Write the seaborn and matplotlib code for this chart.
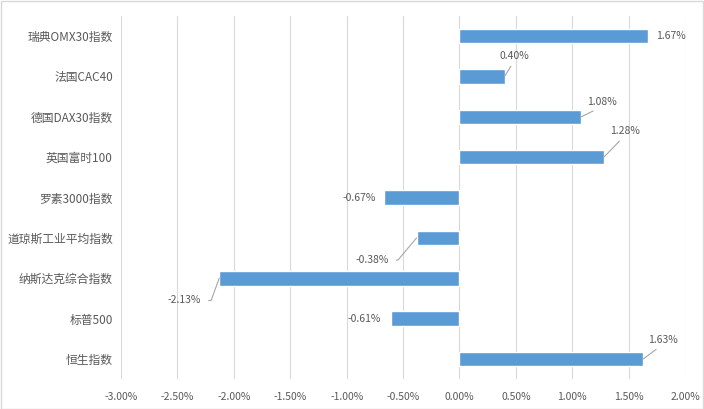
import pandas as pd
import matplotlib
matplotlib.use("Agg")
import matplotlib.pyplot as plt
import seaborn as sns
from matplotlib.ticker import FuncFormatter, MultipleLocator

# Données
categories = ["瑞典OMX30指数", "法国CAC40", "德国DAX30指数", "英国富时100", "罗素3000指数",
              "道琼斯工业平均指数", "纳斯达克综合指数", "标普500", "恒生指数"]
values = [1.67, 0.40, 1.08, 1.28, -0.67, -0.38, -2.13, -0.61, 1.63]
value_labels = ["1.67%", "0.40%", "1.08%", "1.28%", "-0.67%", "-0.38%", "-2.13%", "-0.61%", "1.63%"]

# position des étiquettes (points, relatif au bout de la barre) et type de ligne de rappel
label_offsets = [(6, 0), (7, 15), (15, 11), (15, 19), (-6, 0), (-32, -16), (-25, -16), (-7, 0), (14, 14)]
leader_style = [None, "straight", "straight", "straight", None, "angle50", "angle70", None, "straight"]

df = pd.DataFrame({"indice": categories, "rendement": values})

sns.set_style("whitegrid")
plt.rcParams["font.family"] = ["Noto Sans CJK SC", "DejaVu Sans"]

text_color = "#595959"
grid_color = "#D9D9D9"
bar_color = "#5B9BD5"

fig = plt.figure(figsize=(7.04, 4.09), dpi=100)
ax = fig.add_axes([0.172, 0.073, 0.801, 0.888])

sns.barplot(data=df, x="rendement", y="indice", order=categories, orient="h",
            color=bar_color, saturation=1, width=0.36, ax=ax)

ax.set_xlim(-3.0, 2.0)
ax.xaxis.set_major_locator(MultipleLocator(0.5))
ax.xaxis.set_major_formatter(FuncFormatter(lambda v, p: f"{v:.2f}%"))
ax.set_xlabel("")
ax.set_ylabel("")

ax.grid(axis="x", color=grid_color, linewidth=0.8)
ax.grid(axis="y", visible=False)
ax.set_axisbelow(True)
for s in ax.spines.values():
    s.set_visible(False)

ax.tick_params(axis="x", length=0, pad=9, labelsize=7.5, labelcolor=text_color)
ax.tick_params(axis="y", length=0, pad=6, labelsize=8.5, labelcolor=text_color)

# Étiquettes de données
for i, (v, lab) in enumerate(zip(values, value_labels)):
    dx, dy = label_offsets[i]
    style = leader_style[i]
    if style is None:
        ax.annotate(lab, xy=(v, i), xytext=(dx, dy), textcoords="offset points",
                    ha="left" if v > 0 else "right", va="center",
                    fontsize=7.5, color=text_color)
    else:
        if style == "straight":
            arrow = dict(arrowstyle="-", color="#A6A6A6", lw=0.8, relpos=(0.5, 0),
                         shrinkA=2, shrinkB=0)
        else:
            ang = int(style[5:])
            arrow = dict(arrowstyle="-", color="#A6A6A6", lw=0.8, relpos=(1, 0.5),
                         connectionstyle=f"angle,angleA=0,angleB={ang},rad=0",
                         shrinkA=3, shrinkB=0)
        ax.annotate(lab, xy=(v, i), xytext=(dx, dy), textcoords="offset points",
                    ha="center", va="center", fontsize=7.5, color=text_color,
                    arrowprops=arrow)

# Cadre du graphique
fig.patches.append(plt.Rectangle((0.001, 0.001), 0.998, 0.997, transform=fig.transFigure,
                                 fill=False, edgecolor=grid_color, linewidth=1))

fig.savefig("out.png", dpi=100)
